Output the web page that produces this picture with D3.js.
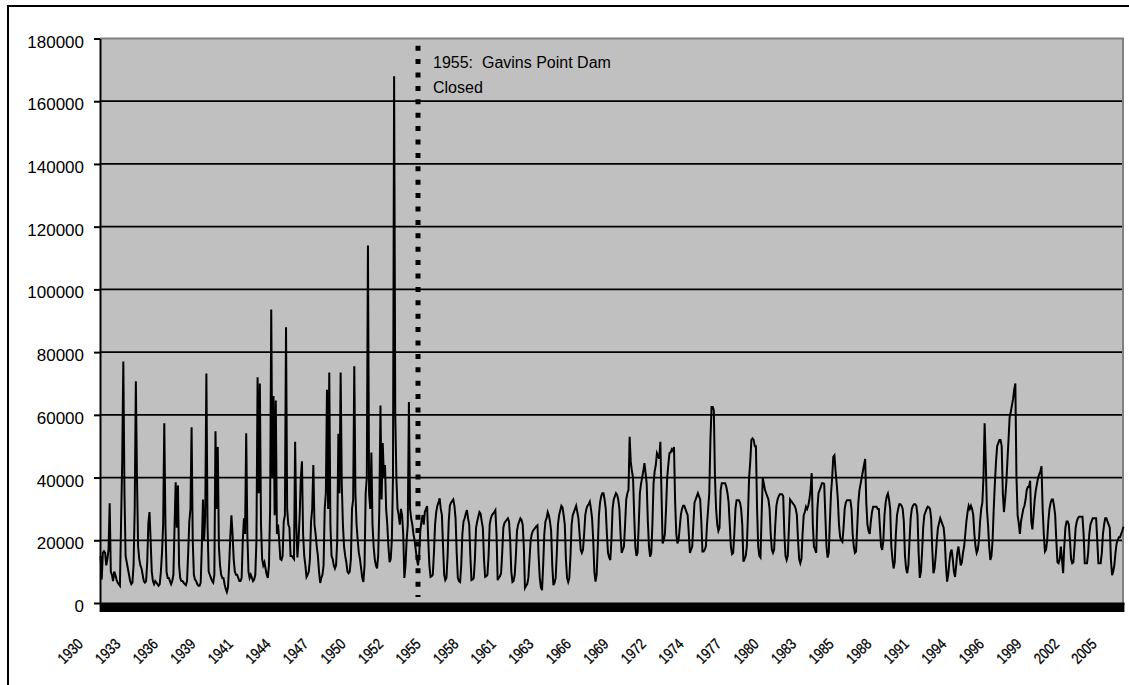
<!DOCTYPE html>
<html>
<head>
<meta charset="utf-8">
<script src="https://cdn.jsdelivr.net/npm/d3@7"></script>
<style>
  body { margin: 0; background: #fff; }
  svg { display: block; font-family: "Liberation Sans", Arial, sans-serif; }
</style>
</head>
<body>
<div id="chart"></div>
<script>
// monthly flow (cfs), one row per water year Oct..Sep, starting Oct 1930
const flowPreDam = [
  15000, 7500, 16000, 16500, 16000, 12000, 14000, 17000, 31800, 10000, 9000, 7000,
  10000, 9000, 7500, 6500, 6000, 5500, 25000, 45000, 77000, 35000, 15000, 13000,
  11000, 9000, 7000, 6000, 6500, 12000, 30000, 70700, 40000, 18000, 14000, 12000,
  11000, 9000, 7000, 6500, 7000, 13000, 25500, 29000, 20000, 10000, 7000, 6000,
  7000, 6500, 6000, 5500, 6000, 10000, 16000, 25000, 57300, 25000, 10000, 8000,
  8000, 7000, 6000, 7000, 9000, 24000, 38500, 24000, 37500, 12000, 8000, 7000,
  7000, 6500, 6000, 5700, 7000, 16000, 26000, 30000, 56000, 20000, 9000, 7500,
  7000, 6000, 5500, 5500, 6500, 18000, 33000, 20000, 28000, 73200, 25000, 10000,
  9000, 8000, 7000, 6500, 9000, 54800, 30000, 49700, 18000, 12000, 9000, 8000,
  8000, 6000, 4500, 3500, 5000, 12000, 21000, 28000, 22000, 14000, 10000, 9000,
  9000, 8000, 7000, 7000, 8000, 20000, 27000, 22000, 54100, 22000, 10000, 8000,
  9000, 8000, 7000, 7500, 9000, 20000, 72000, 35000, 70000, 25000, 14000, 12000,
  13000, 11000, 9000, 8000, 12000, 30000, 93600, 40000, 66000, 28000, 64600, 22000,
  25000, 20000, 14000, 13700, 15000, 26000, 28000, 87900, 30000, 25000, 24000, 15000,
  15000, 14500, 14000, 51400, 25000, 14500, 20000, 28000, 40000, 45200, 22000, 15000,
  12000, 8300, 9000, 10000, 14000, 26000, 30000, 44000, 25000, 22000, 18000, 15000,
  10000, 6400, 8000, 9000, 12000, 30000, 35000, 68000, 30000, 73500, 25000, 15000,
  14000, 12000, 11000, 12000, 20000, 54000, 35000, 73500, 38000, 25000, 18000, 15000,
  13000, 10000, 9500, 10000, 14000, 30000, 33000, 75500, 35000, 25000, 20000, 16000,
  14000, 11000, 8000, 6700, 12000, 35000, 40000, 114000, 35000, 30000, 48000, 25000,
  18000, 14000, 12000, 11000, 15000, 30000, 63000, 33000, 51000, 40000, 44000, 30000,
  25000, 18000, 13000, 14000, 20000, 40000, 168000, 60000, 40000, 30000, 28000, 25000,
  30000, 28000, 22000, 8000, 12000, 20000, 25000, 64100, 30000, 27000, 25000, 22000,
  20000, 17000, 14000, 12000, 15000, 23000, 26000, 28000, 25000, 29000, 30000, 30900
];

const flowPostDam = [
  20000, 12000, 8300, 8500, 9000, 16000, 25000, 29000, 31000, 32000, 33400, 30000,
  28000, 18000, 9000, 7300, 8000, 15000, 26000, 31000, 32000, 32500, 33000, 31000,
  27000, 16000, 8000, 7000, 6700, 12000, 22000, 26000, 27000, 28500, 29600, 27000,
  25000, 15000, 7300, 7500, 8000, 14000, 24000, 26000, 27500, 29000, 28500, 26000,
  24000, 14000, 8300, 8500, 9000, 15000, 25000, 27000, 28000, 28500, 29000, 29600,
  22000, 7300, 8000, 8500, 9500, 16000, 24000, 25500, 26000, 26500, 27000, 26000,
  20000, 10000, 6700, 7000, 9000, 15000, 23000, 25000, 26000, 27000, 26500, 25000,
  18000, 4800, 5500, 6000, 8000, 14000, 20000, 22000, 23000, 23500, 24000, 24500,
  24800, 15000, 8000, 5000, 4100, 12000, 22000, 26000, 27000, 29000, 28000, 26000,
  23000, 12000, 5700, 6500, 8000, 16000, 25000, 28000, 29500, 31000, 30500, 28000,
  25000, 14000, 8000, 6700, 8000, 15000, 25000, 28000, 29000, 30000, 31000, 29000,
  27000, 22000, 17000, 16000, 17000, 22000, 28000, 30000, 31000, 31500, 32300, 30000,
  27000, 20000, 10000, 6800, 9000, 18000, 28000, 32000, 34000, 35000, 35000, 33000,
  30000, 22000, 16000, 14500, 13700, 20000, 30000, 33000, 34000, 35000, 34500, 33000,
  30000, 22000, 16000, 17000, 18000, 25000, 33000, 35000, 36000, 53000, 45000, 42000,
  40000, 28000, 18000, 15000, 16000, 25000, 35000, 38000, 40000, 42000, 44600, 41500,
  38000, 26000, 18000, 14800, 16000, 25000, 38000, 42000, 44000, 47800, 47000, 46000,
  51400, 35000, 19000, 20000, 22000, 30000, 40000, 44000, 47800, 48000, 49000, 48500,
  49700, 32000, 22000, 19000, 20000, 24000, 28000, 30000, 31000, 31000, 30000, 29000,
  28000, 22000, 16000, 17000, 18000, 25000, 32000, 33000, 34000, 35000, 34000, 33000,
  26000, 16400, 16400, 17000, 18000, 25000, 30000, 35000, 52000, 62500, 62500, 61500,
  40000, 30000, 25000, 23000, 24000, 36000, 38200, 38200, 38200, 38200, 37000, 35000,
  32000, 25000, 18000, 15600, 16000, 22000, 30000, 32800, 32800, 32800, 32000, 30000,
  25000, 13200, 14000, 15000, 18000, 28000, 40000, 45000, 52000, 52500, 52000, 50000,
  50000, 30000, 18000, 15000, 14500, 28000, 39900, 38000, 36000, 35000, 34000, 33000,
  30000, 22000, 17000, 16000, 17000, 25000, 31000, 33000, 34000, 34700, 34700, 34700,
  34000, 22000, 15000, 13700, 15000, 24000, 33000, 32500, 32000, 31500, 31000, 30000,
  28000, 20000, 14000, 12700, 14000, 22000, 28000, 29000, 30700, 30000, 31000, 33000,
  36000, 41400, 25000, 18000, 17000, 16000, 30000, 35000, 36000, 37000, 38200, 38200,
  38000, 28000, 18000, 14500, 16000, 26000, 35000, 40000, 46600, 47100, 42000, 38000,
  33000, 25000, 21000, 20000, 19500, 24000, 30000, 32000, 32800, 32800, 32800, 32800,
  30000, 22000, 18000, 16000, 16400, 24000, 32000, 36000, 38000, 40000, 42000, 44000,
  45900, 32000, 25000, 23000, 22000, 26000, 29000, 30700, 30700, 30700, 30700, 30000,
  30000, 24000, 18000, 16900, 20000, 28000, 32000, 34000, 34900, 33000, 30000, 18000,
  14000, 11000, 13000, 22000, 28000, 30000, 31500, 31500, 31000, 30000, 26000, 15000,
  11000, 9500, 12000, 20000, 27000, 30000, 31000, 31500, 31500, 31000, 28000, 16000,
  8000, 10000, 16000, 24000, 28000, 29000, 30000, 30700, 30500, 30000, 27000, 17000,
  9500, 11000, 15000, 20000, 24000, 25500, 27000, 26000, 25000, 24000, 20000, 12000,
  6800, 9000, 13000, 16000, 17000, 14000, 10000, 8300, 12000, 16000, 18000, 15000,
  12000, 13000, 16000, 18000, 22000, 26000, 29000, 31000, 30000, 31000, 30000, 28000,
  22000, 18000, 16000, 17000, 20000, 26000, 30000, 32000, 40000, 57300, 45000, 30000,
  25000, 18000, 13700, 15000, 20000, 30000, 38000, 45000, 50000, 51000, 52000, 52000,
  50000, 35000, 29000, 33000, 38000, 45000, 52000, 59300, 61000, 63000, 65000, 68000,
  70000, 40000, 28000, 25500, 22000, 26000, 28000, 30000, 31000, 33000, 36000, 37000,
  37000, 39000, 26000, 23500, 28000, 33000, 36000, 38000, 40000, 41000, 42000, 43600,
  30000, 22000, 16400, 17000, 20000, 26000, 30000, 32000, 33000, 33000, 31000, 28000,
  20000, 13000, 12700, 14000, 18000, 14000, 9500, 18000, 24000, 26000, 26000, 25000,
  20000, 14000, 12700, 13000, 18000, 24000, 26000, 27000, 27500, 27500, 27500, 27500,
  22000, 12700, 12700, 12700, 16000, 22000, 25000, 26000, 27000, 27000, 27000, 27000,
  20000, 12700, 12700, 12700, 16000, 22000, 25000, 27000, 27000, 26000, 25000, 24000,
  14000, 8900, 10000, 12000, 16000, 19000, 20000, 21000, 21000, 22000, 23000, 24300
];

const yTicks = [0, 20000, 40000, 60000, 80000, 100000, 120000, 140000, 160000, 180000];
const xTickYears = [1930, 1933, 1936, 1939, 1941, 1944, 1947, 1950, 1952, 1955, 1958, 1961, 1963, 1966,
  1969, 1972, 1974, 1977, 1980, 1983, 1985, 1988, 1991, 1994, 1996, 1999, 2002, 2005];
const xLabelEvery = 33;   // one label every 33 months, like the excel category axis
const damIndex = 279;     // month where the dotted line was drawn
const damNote = ["1955:  Gavins Point Dam", "Closed"];

let flow = flowPreDam.concat(flowPostDam);

let width = 1129, height = 685;
let plotLeft = 100, plotRight = 1124, plotTop = 38.5, plotBottom = 603;

let svg = d3.select("#chart").append("svg")
    .attr("width", width)
    .attr("height", height);

// outer chart border (right and bottom run off the picture)
svg.append("rect")
    .attr("x", 8).attr("y", 6)
    .attr("width", 1135).attr("height", 700)
    .style("fill", "none")
    .style("stroke", "#000")
    .style("stroke-width", 2);

let x = d3.scaleBand().domain(d3.range(flow.length)).range([plotLeft, plotRight]);
let y = d3.scaleLinear().domain([0, 180000]).range([plotBottom, plotTop]);
let cx = i => x(i) + x.bandwidth() / 2;

svg.append("rect")
    .attr("x", plotLeft).attr("y", plotTop)
    .attr("width", plotRight - plotLeft).attr("height", plotBottom - plotTop)
    .style("fill", "#c0c0c0");

// gridlines
svg.append("g").selectAll("line")
    .data(yTicks.filter(d => d > 0 && d < 180000))
    .join("line")
    .attr("x1", plotLeft).attr("x2", plotRight - 1)
    .attr("y1", d => y(d)).attr("y2", d => y(d))
    .style("stroke", "#000")
    .style("stroke-width", 1.7);

// grey plot border top / right
svg.append("path")
    .attr("d", `M${plotLeft},${plotTop}H${plotRight - 1}V${plotBottom}`)
    .style("fill", "none")
    .style("stroke", "#808080")
    .style("stroke-width", 2);

let line = d3.line()
    .x((d, i) => cx(i))
    .y(d => y(d));

svg.append("path")
    .datum(flow)
    .attr("d", line)
    .style("fill", "none")
    .style("stroke", "#000")
    .style("stroke-width", 2);

// dam closure annotation
let damX = cx(damIndex);
svg.append("line")
    .attr("x1", damX).attr("x2", damX)
    .attr("y1", y(177700)).attr("y2", y(1900))
    .style("stroke", "#000")
    .style("stroke-width", 5)
    .style("stroke-dasharray", "5 8.4");

damNote.forEach(function(t, i) {
    svg.append("text")
        .attr("x", damX + 15)
        .attr("y", 68 + i * 25)
        .style("font-size", "16px")
        .style("white-space", "pre")
        .text(t);
});

// y axis
let yaxis = d3.axisLeft(y).tickValues(yTicks).tickSize(6).tickPadding(10)
    .tickSizeOuter(0).tickFormat(d3.format("d"));
let yg = svg.append("g").attr("transform", `translate(${plotLeft},0)`).call(yaxis);
yg.select(".domain").style("stroke-width", 2);
yg.selectAll(".tick line").style("stroke-width", 2);
yg.selectAll(".tick text")
    .attr("dy", "0.5em")
    .style("font-size", "17px")
    .style("font-family", "'Liberation Sans', Arial, sans-serif")
    .style("fill", "#000");

// x axis: a tick for every month -> solid black band
let xaxis = d3.axisBottom(x).tickSize(9).tickSizeOuter(0).tickFormat("");
let xg = svg.append("g").attr("transform", `translate(0,${plotBottom})`).call(xaxis);
xg.select(".domain").style("stroke-width", 2);
xg.selectAll(".tick line").style("stroke-width", 2);

let labelIdx = xTickYears.map((d, i) => i * xLabelEvery);
let xlab = d3.axisBottom(x).tickValues(labelIdx).tickSize(0)
    .tickFormat(d => xTickYears[labelIdx.indexOf(d)]);
let xl = svg.append("g").attr("transform", `translate(0,${plotBottom})`).call(xlab);
xl.select(".domain").remove();
xl.selectAll(".tick text")
    .attr("x", 0).attr("y", 0).attr("dy", 0)
    .attr("text-anchor", "end")
    .attr("transform", "translate(-16.7,42) rotate(-45)")
    .attr("textLength", 28)
    .attr("lengthAdjust", "spacingAndGlyphs")
    .style("font-size", "15.5px")
    .style("font-family", "'Liberation Sans', Arial, sans-serif")
    .style("stroke", "#000")
    .style("stroke-width", 0.3)
    .style("fill", "#000");
</script>
</body>
</html>
